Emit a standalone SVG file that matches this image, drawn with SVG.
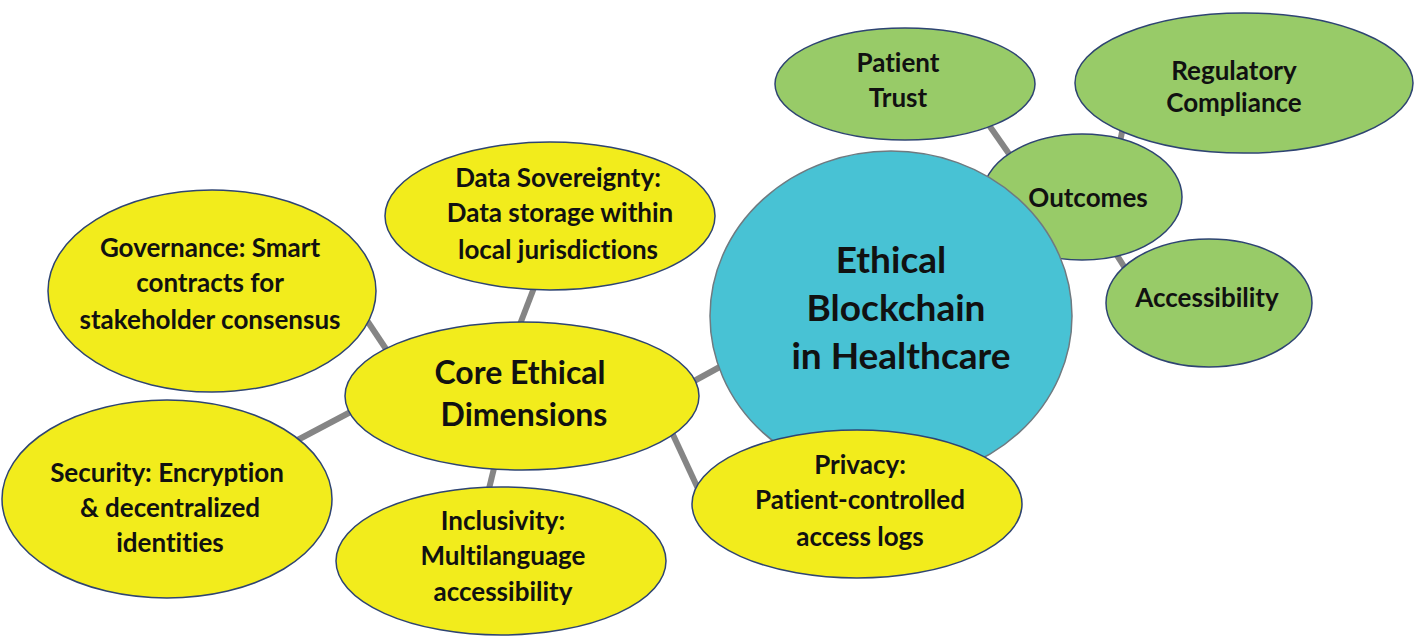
<svg xmlns="http://www.w3.org/2000/svg" width="1414" height="642" viewBox="0 0 1414 642">
<style>
.y{fill:#F2EC1C;stroke:#2E4472;stroke-width:1.5}
.g{fill:#98CB68;stroke:#2E4472;stroke-width:1.5}
.b{fill:#48C2D4;stroke:#6F7A80;stroke-width:1.5}
.c line{stroke:#858585;stroke-width:6;stroke-linecap:butt}
text{font-family:Lato,"Open Sans","DejaVu Sans",sans-serif;font-weight:bold;fill:#111;text-anchor:middle;font-variant-ligatures:none}
.s{font-size:26px}
.m{font-size:32px}
.l{font-size:37px}
</style>
<rect width="1414" height="642" fill="#ffffff"/>
<g id="connectors" class="c">
<line x1="360" y1="310" x2="396" y2="364"/>
<line x1="537" y1="280" x2="517" y2="332"/>
<line x1="290" y1="444" x2="360" y2="407"/>
<line x1="496" y1="460" x2="487" y2="497"/>
<line x1="668" y1="424" x2="700" y2="493"/>
<line x1="685" y1="386" x2="727" y2="363"/>
<line x1="984" y1="118" x2="1014" y2="161"/>
<line x1="1124" y1="122" x2="1118" y2="152"/>
<line x1="1113" y1="249" x2="1130" y2="276"/>
</g>
<g id="patient-trust">
<ellipse class="g" cx="905" cy="84" rx="130" ry="56"/>
<text class="s" x="898" y="72">Patient</text>
<text class="s" x="898" y="107">Trust</text>
</g>
<g id="regulatory-compliance">
<ellipse class="g" cx="1244" cy="83" rx="169" ry="70"/>
<text class="s" x="1234" y="80">Regulatory</text>
<text class="s" x="1234" y="112">Compliance</text>
</g>
<g id="outcomes">
<ellipse class="g" cx="1082" cy="197" rx="100" ry="63"/>
<text class="s" x="1088" y="207">Outcomes</text>
</g>
<g id="accessibility">
<ellipse class="g" cx="1209" cy="303" rx="103" ry="64"/>
<text class="s" x="1207" y="307">Accessibility</text>
</g>
<g id="ethical-blockchain">
<ellipse class="b" cx="891" cy="316" rx="181" ry="165"/>
<text class="l" x="891" y="273">Ethical</text>
<text class="l" x="896" y="321">Blockchain</text>
<text class="l" x="901" y="369">in Healthcare</text>
</g>
<g id="data-sovereignty">
<ellipse class="y" cx="550" cy="216" rx="165" ry="74"/>
<text class="s" x="558" y="187">Data Sovereignty:</text>
<text class="s" x="560" y="222">Data storage within</text>
<text class="s" x="558" y="259">local jurisdictions</text>
</g>
<g id="governance">
<ellipse class="y" cx="212" cy="291" rx="164" ry="101"/>
<text class="s" x="210" y="257">Governance: Smart</text>
<text class="s" x="210" y="292">contracts for</text>
<text class="s" x="210" y="329">stakeholder consensus</text>
</g>
<g id="core-ethical-dimensions">
<ellipse class="y" cx="522" cy="396" rx="177" ry="74"/>
<text class="m" x="520" y="384">Core Ethical</text>
<text class="m" x="524" y="426">Dimensions</text>
</g>
<g id="security">
<ellipse class="y" cx="167" cy="499" rx="165" ry="99"/>
<text class="s" x="167" y="482">Security: Encryption</text>
<text class="s" x="170" y="517">&amp; decentralized</text>
<text class="s" x="170" y="552">identities</text>
</g>
<g id="inclusivity">
<ellipse class="y" cx="501" cy="561" rx="165" ry="74"/>
<text class="s" x="503" y="530">Inclusivity:</text>
<text class="s" x="503" y="565">Multilanguage</text>
<text class="s" x="503" y="601">accessibility</text>
</g>
<g id="privacy">
<ellipse class="y" cx="857" cy="504" rx="165" ry="74"/>
<text class="s" x="860" y="474">Privacy:</text>
<text class="s" x="860" y="509">Patient-controlled</text>
<text class="s" x="860" y="546">access logs</text>
</g>
</svg>
